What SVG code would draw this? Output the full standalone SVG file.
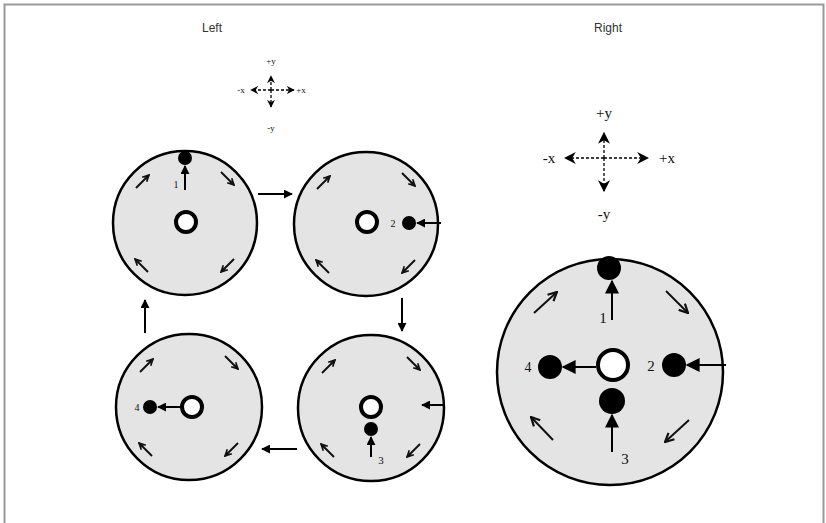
<svg xmlns="http://www.w3.org/2000/svg" width="826" height="523" viewBox="0 0 826 523">
<defs>
<style>
.disk{fill:#e4e4e4;stroke:#000;stroke-width:2.5}
.ring{fill:#fff;stroke:#000;stroke-width:4}
.dot{fill:#000}
.ln{stroke:#000;stroke-width:2;fill:none}
.rot{stroke:#111;stroke-width:2;fill:none}
.dash{stroke:#000;stroke-width:1.3;stroke-dasharray:3 2;fill:none}
.title{font-family:"Liberation Sans",Arial,sans-serif;font-size:12px;fill:#333;text-anchor:middle}
.lab{font-family:"Liberation Serif","Times New Roman",serif;fill:#111;text-anchor:middle}
</style>
<marker id="ah" viewBox="0 0 10 10" refX="9" refY="5" markerWidth="9" markerHeight="9" markerUnits="userSpaceOnUse" orient="auto"><path d="M0,0 L10,5 L0,10 z" fill="#000"/></marker>
<marker id="ahg" viewBox="0 0 10 10" refX="9" refY="5" markerWidth="12" markerHeight="12" markerUnits="userSpaceOnUse" orient="auto"><path d="M0,0 L10,5 L0,10 L3,5 z" fill="#000"/></marker>
<marker id="ahb" viewBox="0 0 10 10" refX="9" refY="5" markerWidth="14" markerHeight="14" markerUnits="userSpaceOnUse" orient="auto"><path d="M0,0 L10,5 L0,10 z" fill="#000"/></marker>
<marker id="ahs" viewBox="0 0 10 10" refX="9" refY="5" markerWidth="8" markerHeight="8" markerUnits="userSpaceOnUse" orient="auto"><path d="M0,0 L10,5 L0,10 L3,5 z" fill="#000"/></marker>
<marker id="op" viewBox="0 0 10 10" refX="9" refY="5" markerWidth="8" markerHeight="8" markerUnits="userSpaceOnUse" orient="auto"><path d="M1,1 L9,5 L1,9 M3,3 L8,5 L3,7" fill="none" stroke="#111" stroke-width="2"/></marker>
<marker id="opb" viewBox="0 0 10 10" refX="9" refY="5" markerWidth="11" markerHeight="11" markerUnits="userSpaceOnUse" orient="auto"><path d="M1,1 L9,5 L1,9" fill="none" stroke="#111" stroke-width="2"/></marker>
<g id="rot4">
<line class="rot" x1="-49" y1="-35" x2="-36" y2="-48" marker-end="url(#op)"/>
<line class="rot" x1="36" y1="-51" x2="49" y2="-38" marker-end="url(#op)"/>
<line class="rot" x1="49" y1="36" x2="36" y2="49" marker-end="url(#op)"/>
<line class="rot" x1="-37" y1="49" x2="-50" y2="36" marker-end="url(#op)"/>
</g>
</defs>
<rect x="0" y="0" width="826" height="523" fill="#fff"/>
<rect x="4.5" y="4.5" width="819" height="540" fill="none" stroke="#999" stroke-width="2"/>

<text class="title" x="212" y="32">Left</text>
<text class="title" x="608" y="32">Right</text>

<g id="axes-small">
<line class="dash" x1="271" y1="90" x2="271" y2="76" marker-end="url(#ahs)"/>
<line class="dash" x1="271" y1="90" x2="271" y2="107" marker-end="url(#ahs)"/>
<line class="dash" x1="271" y1="90" x2="251" y2="90" marker-end="url(#ahs)"/>
<line class="dash" x1="271" y1="90" x2="294" y2="90" marker-end="url(#ahs)"/>
<text class="lab" x="271" y="64" font-size="9">+y</text>
<text class="lab" x="271" y="131" font-size="9">-y</text>
<text class="lab" x="241" y="93" font-size="9">-x</text>
<text class="lab" x="301" y="93" font-size="9">+x</text>
</g>

<g id="axes-big">
<line class="dash" x1="604" y1="158" x2="604" y2="133" marker-end="url(#ahg)"/>
<line class="dash" x1="604" y1="158" x2="604" y2="191" marker-end="url(#ahg)"/>
<line class="dash" x1="604" y1="158" x2="565" y2="158" marker-end="url(#ahg)"/>
<line class="dash" x1="604" y1="158" x2="648" y2="158" marker-end="url(#ahg)"/>
<text class="lab" x="604" y="118" font-size="15">+y</text>
<text class="lab" x="604" y="219" font-size="15">-y</text>
<text class="lab" x="549" y="163" font-size="15">-x</text>
<text class="lab" x="667" y="163" font-size="15">+x</text>
</g>

<g id="disk-tl">
<circle class="disk" cx="185" cy="223" r="72"/>
<circle class="ring" cx="186" cy="222" r="10"/>
<circle class="dot" cx="185" cy="158" r="7"/>
<line class="ln" x1="185" y1="190" x2="185" y2="166" marker-end="url(#ah)"/>
<text class="lab" x="176" y="188" font-size="10">1</text>
<use href="#rot4" x="185" y="223"/>
</g>

<g id="disk-tr">
<circle class="disk" cx="366" cy="224" r="72"/>
<circle class="ring" cx="367" cy="222" r="10"/>
<circle class="dot" cx="409" cy="223" r="7"/>
<line class="ln" x1="441" y1="223" x2="417" y2="223" marker-end="url(#ah)"/>
<text class="lab" x="393" y="227" font-size="10">2</text>
<use href="#rot4" x="366" y="224"/>
</g>

<g id="disk-br">
<circle class="disk" cx="371" cy="408" r="73"/>
<circle class="ring" cx="371" cy="407" r="10"/>
<circle class="dot" cx="371" cy="429" r="7"/>
<line class="ln" x1="371" y1="457" x2="371" y2="437" marker-end="url(#ah)"/>
<text class="lab" x="381" y="464" font-size="11">3</text>
<line class="ln" x1="445" y1="405" x2="422" y2="405" marker-end="url(#ah)"/>
<use href="#rot4" x="371" y="408"/>
</g>

<g id="disk-bl">
<circle class="disk" cx="189" cy="407" r="73"/>
<circle class="ring" cx="192" cy="407" r="10"/>
<circle class="dot" cx="150" cy="407" r="7"/>
<line class="ln" x1="180" y1="407" x2="158" y2="407" marker-end="url(#ah)"/>
<text class="lab" x="137" y="411" font-size="10">4</text>
<use href="#rot4" x="189" y="407"/>
</g>

<g id="disk-big">
<circle class="disk" cx="610" cy="372" r="113" stroke-width="3.5"/>
<circle class="ring" cx="613" cy="365" r="15" stroke-width="6"/>
<circle class="dot" cx="609" cy="268" r="12"/>
<line class="ln" x1="612" y1="320" x2="612" y2="281" stroke-width="2.5" marker-end="url(#ahb)"/>
<text class="lab" x="603" y="323" font-size="15">1</text>
<circle class="dot" cx="674" cy="365" r="12"/>
<line class="ln" x1="726" y1="365" x2="687" y2="365" stroke-width="2.5" marker-end="url(#ahb)"/>
<text class="lab" x="651" y="371" font-size="15">2</text>
<circle class="dot" cx="612" cy="401" r="13"/>
<line class="ln" x1="612" y1="452" x2="612" y2="415" stroke-width="2.5" marker-end="url(#ahb)"/>
<text class="lab" x="625" y="464" font-size="15">3</text>
<circle class="dot" cx="550" cy="367" r="12"/>
<line class="ln" x1="596" y1="367" x2="563" y2="367" stroke-width="2.5" marker-end="url(#ahb)"/>
<text class="lab" x="528" y="372" font-size="14" fill="#444">4</text>
<line class="rot" x1="534" y1="313" x2="557" y2="292" stroke-width="2.5" marker-end="url(#opb)"/>
<line class="rot" x1="666" y1="291" x2="688" y2="313" stroke-width="2.5" marker-end="url(#opb)"/>
<line class="rot" x1="689" y1="420" x2="665" y2="442" stroke-width="2.5" marker-end="url(#opb)"/>
<line class="rot" x1="553" y1="440" x2="531" y2="417" stroke-width="2.5" marker-end="url(#opb)"/>
</g>

<g id="connectors">
<line class="ln" x1="258" y1="194" x2="292" y2="194" stroke-width="1.6" marker-end="url(#ah)"/>
<line class="ln" x1="402" y1="298" x2="402" y2="331" stroke-width="1.6" marker-end="url(#ah)"/>
<line class="ln" x1="297" y1="449" x2="262" y2="449" stroke="#777" stroke-width="2" marker-end="url(#ah)"/>
<line class="ln" x1="145" y1="333" x2="145" y2="300" stroke-width="1.6" marker-end="url(#ah)"/>
</g>
</svg>
